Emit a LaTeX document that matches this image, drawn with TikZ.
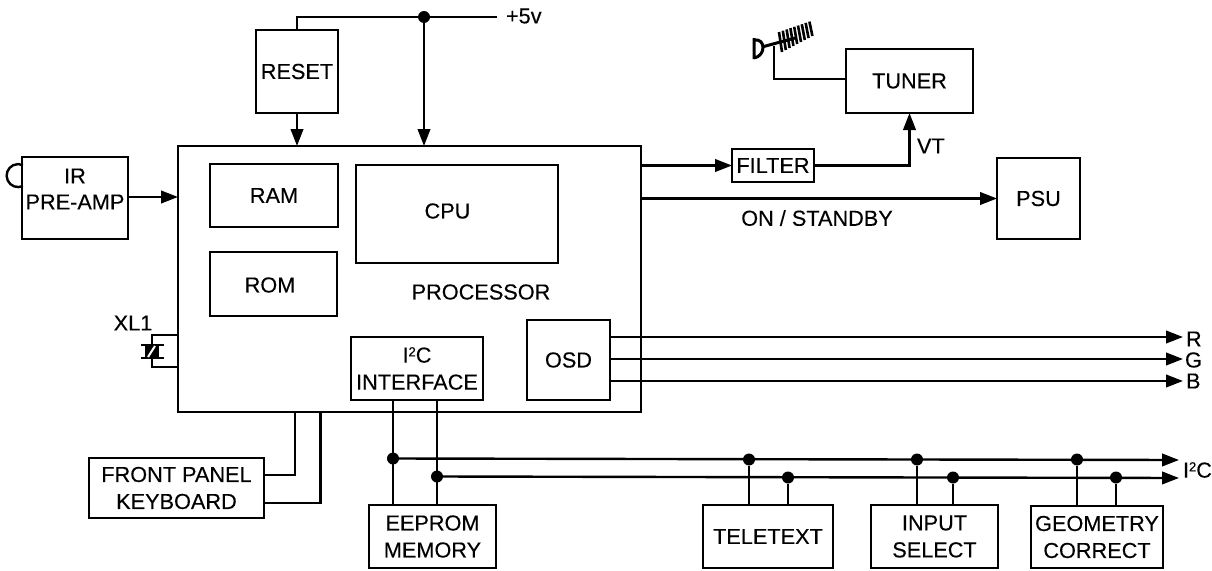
\documentclass[tikz,border=0pt]{standalone}
\usepackage{fontspec}
\setmainfont{Liberation Sans}[FakeBold=0.25]
\usetikzlibrary{arrows.meta}
\tikzset{
 x=1pt,y=-1pt,
 line/.style={line width=2.4pt,line cap=butt,line join=miter},
 arr/.style={line,-{Triangle[length=17pt,width=12.5pt]}},
 blk/.style={draw,line width=2.4pt,anchor=north west,outer sep=0pt,inner sep=0pt,align=center,font=\fontsize{21.7}{27}\selectfont},
 lab/.style={inner sep=0pt,outer sep=0pt,align=center,font=\fontsize{21.7}{27}\selectfont},
 dot/.style={circle,fill=black,inner sep=0pt,minimum size=12pt}
}
\newcommand{\blk}[6]{\node[blk,minimum width=#4 pt-#2 pt,minimum height=#5 pt-#3 pt] (#1) at (#2,#3) {#6};}
\newcommand{\itc}{I\raisebox{0.55ex}{\fontsize{13}{13}\selectfont 2}C}
\begin{document}
\begin{tikzpicture}
\useasboundingbox (0,0) rectangle (1212,570);
\blk{proc}{178}{146}{641}{412}{}
\blk{reset}{256}{30}{338}{113}{RESET}
\blk{ram}{210}{164}{338}{227}{RAM}
\blk{rom}{210}{252}{337}{316}{}
\blk{cpu}{356}{165}{558}{263}{}
\blk{ifc}{351}{337}{483}{400}{\itc\\INTERFACE}
\blk{osd}{527}{320}{610}{400}{OSD}
\blk{ir}{22}{157}{128}{239}{}
\blk{filter}{732}{149}{814}{182}{FILTER}
\blk{tuner}{846}{49}{973}{113}{TUNER}
\blk{psu}{997}{158}{1080}{239}{PSU}
\blk{kbd}{89}{458}{264}{518}{FRONT PANEL\\KEYBOARD}
\blk{eeprom}{369}{505}{496}{568}{EEPROM\\MEMORY}
\blk{tele}{703}{505}{833}{568}{TELETEXT}
\blk{input}{871}{505}{998}{568}{INPUT\\SELECT}
\blk{geom}{1031}{506}{1163}{568}{GEOMETRY\\CORRECT}
\node[lab] (irt) at (75,189) {IR\\[-1pt]PRE-AMP};
\node[lab] (romt) at (270,285) {ROM};
\node[lab] (cput) at (447.5,211) {CPU};
\node[lab] (ptxt) at (481,292) {PROCESSOR};
\node[lab] (onst) at (817,218) {ON / STANDBY};
\node[lab,anchor=west] (vt) at (917,146) {VT};
\node[lab,anchor=west] (v5) at (506,16) {+5v};
\node[lab] (xl) at (133,323) {XL1};
\node[lab,anchor=west] (r) at (1186,339) {R};
\node[lab,anchor=west] (g) at (1185,360) {G};
\node[lab,anchor=west] (b) at (1186,381) {B};
\node[lab,anchor=west] (i2) at (1183,470) {\itc};
% +5v rail
\coordinate (rail) at (497,17);
\node[dot] (d5) at (424,17) {};
\draw[line] (reset.north) |- (rail);
\draw[arr] (d5) -- (d5 |- proc.north);
\draw[arr] (reset.south) -- (reset.south |- proc.north);
% IR
\draw[arr] (ir.east |- 0,197) -- (proc.west |- 0,197);
\draw[line] (23,186) arc[start angle=65,end angle=295,radius=11.5];
% Crystal
\draw[line] (proc.west |- 0,335) -- (152,335) -- (152,345);
\draw[line] (proc.west |- 0,367) -- (152,367) -- (152,358);
\draw[line] (141,345) -- (164,345);
\draw[line] (141,358) -- (164,358);
\fill (145,345) -- (159,345) -- (159,358) -- (145,358) -- cycle;
\draw[white,line width=2pt] (148,357) -- (155,346);
% Filter / tuner / PSU
\draw[arr] (proc.east |- filter.west) -- (filter.west);
\draw[arr] (filter.east) -| (tuner.south);
\draw[arr] (proc.east |- psu.west) -- (psu.west);
% Antenna
\draw[line] (774,46) |- (tuner.west |- 0,79);
\draw[line,line width=3pt] (762,47) -- (795,38);
\draw[line,line width=3pt] (754,38) -- (754,59) (754,40) .. controls (766,38) and (766,56) .. (754,58);
\foreach \i in {0,...,8}{
 \draw[line width=2.6pt] (779+\i*3.8,32-\i*1.3) -- (782+\i*3.8,52-\i*2);
}
% RGB
\coordinate (re) at (1183,337);
\coordinate (ge) at (1183,359);
\coordinate (be) at (1183,381);
\draw[arr] (re -| osd.east) -- (re);
\draw[arr] (ge -| osd.east) -- (ge);
\draw[arr] (be -| osd.east) -- (be);
% Keyboard
\coordinate (k1) at (295,475);
\coordinate (k2) at (320.5,503);
\draw[line] (k1 |- proc.south) -- (k1) -- (k1 -| kbd.east);
\draw[line] (k2 |- proc.south) -- (k2) -- (k2 -| kbd.east);
% I2C
\node[dot] (a1) at (393,458.5) {};
\node[dot] (a2) at (437,476.5) {};
\coordinate (q1) at (1179,460);
\coordinate (q2) at (1179,478);
\draw[line] (a1 |- ifc.south) -- (a1 |- eeprom.north);
\draw[line] (a2 |- ifc.south) -- (a2 |- eeprom.north);
\draw[arr] (a1) -- (q1);
\draw[arr] (a2) -- (q2);
\foreach \n/\xa/\xb/\b in {t/749/788/tele,u/917/953/input,w/1077/1116/geom}{
 \node[dot] (\n1) at (\xa,459.5) {};
 \node[dot] (\n2) at (\xb,477.5) {};
 \draw[line] (\n1) -- (\n1 |- \b.north);
 \draw[line] (\n2) -- (\n2 |- \b.north);
}
\end{tikzpicture}
\end{document}
